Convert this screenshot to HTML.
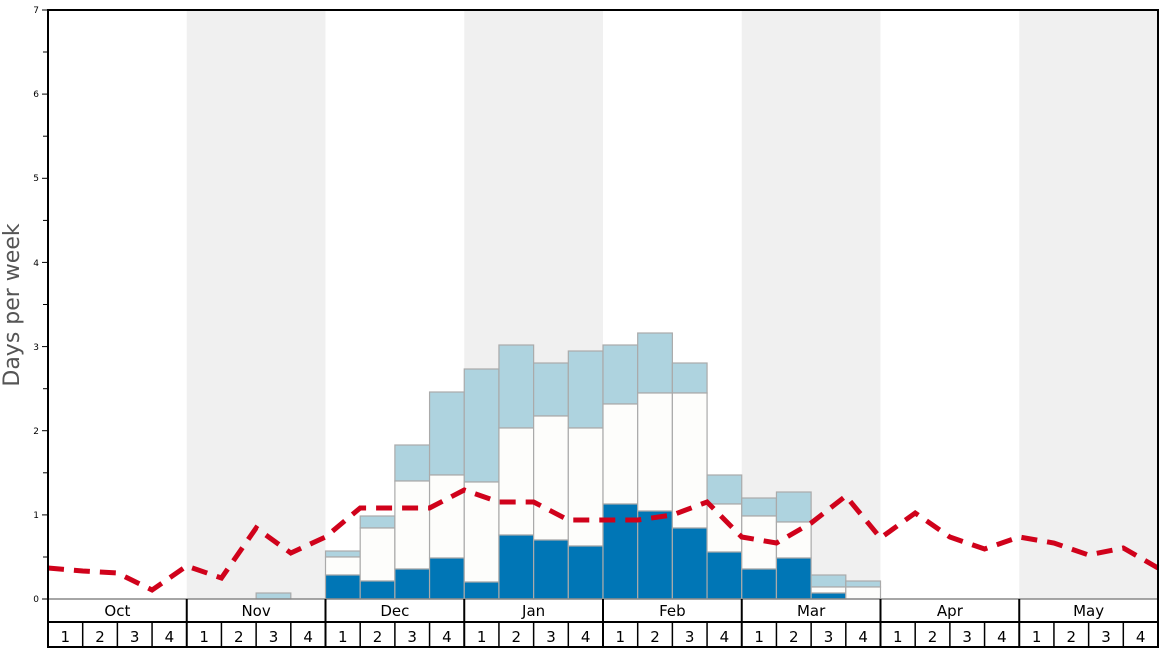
<!DOCTYPE html>
<html><head><meta charset="utf-8"><style>
html,body{margin:0;padding:0;background:#fff;}
svg{display:block;font-family:"DejaVu Sans","Liberation Sans",sans-serif;}
</style></head><body>
<svg width="1168" height="648" viewBox="0 0 1168 648" xmlns="http://www.w3.org/2000/svg">
<rect x="0" y="0" width="1168" height="648" fill="#fff"/>
<!-- shaded months -->
<g fill="#f0f0f0">
<rect x="186.75" y="10" width="138.75" height="589"/>
<rect x="464.25" y="10" width="138.75" height="589"/>
<rect x="741.75" y="10" width="138.75" height="589"/>
<rect x="1019.25" y="10" width="138.75" height="589"/>
</g>
<!-- bars -->
<g stroke="#aaaaaa" stroke-width="1.2">
<rect x="256.13" y="593" width="34.69" height="6" fill="#aed3df"/>
<!-- Dec1 -->
<rect x="325.5" y="551" width="34.69" height="6" fill="#aed3df"/><rect x="325.5" y="557" width="34.69" height="18" fill="#fdfdfb"/><rect x="325.5" y="575" width="34.69" height="24" fill="#0076b6"/>
<rect x="360.19" y="516" width="34.69" height="12" fill="#aed3df"/><rect x="360.19" y="528" width="34.69" height="53" fill="#fdfdfb"/><rect x="360.19" y="581" width="34.69" height="18" fill="#0076b6"/>
<rect x="394.88" y="445" width="34.69" height="36" fill="#aed3df"/><rect x="394.88" y="481" width="34.69" height="88" fill="#fdfdfb"/><rect x="394.88" y="569" width="34.69" height="30" fill="#0076b6"/>
<rect x="429.56" y="392" width="34.69" height="83" fill="#aed3df"/><rect x="429.56" y="475" width="34.69" height="83" fill="#fdfdfb"/><rect x="429.56" y="558" width="34.69" height="41" fill="#0076b6"/>
<!-- Jan -->
<rect x="464.25" y="369" width="34.69" height="113" fill="#aed3df"/><rect x="464.25" y="482" width="34.69" height="100" fill="#fdfdfb"/><rect x="464.25" y="582" width="34.69" height="17" fill="#0076b6"/>
<rect x="498.94" y="345" width="34.69" height="83" fill="#aed3df"/><rect x="498.94" y="428" width="34.69" height="107" fill="#fdfdfb"/><rect x="498.94" y="535" width="34.69" height="64" fill="#0076b6"/>
<rect x="533.63" y="363" width="34.69" height="53" fill="#aed3df"/><rect x="533.63" y="416" width="34.69" height="124" fill="#fdfdfb"/><rect x="533.63" y="540" width="34.69" height="59" fill="#0076b6"/>
<rect x="568.31" y="351" width="34.69" height="77" fill="#aed3df"/><rect x="568.31" y="428" width="34.69" height="118" fill="#fdfdfb"/><rect x="568.31" y="546" width="34.69" height="53" fill="#0076b6"/>
<!-- Feb -->
<rect x="603" y="345" width="34.69" height="59" fill="#aed3df"/><rect x="603" y="404" width="34.69" height="100" fill="#fdfdfb"/><rect x="603" y="504" width="34.69" height="95" fill="#0076b6"/>
<rect x="637.69" y="333" width="34.69" height="60" fill="#aed3df"/><rect x="637.69" y="393" width="34.69" height="118" fill="#fdfdfb"/><rect x="637.69" y="511" width="34.69" height="88" fill="#0076b6"/>
<rect x="672.38" y="363" width="34.69" height="30" fill="#aed3df"/><rect x="672.38" y="393" width="34.69" height="135" fill="#fdfdfb"/><rect x="672.38" y="528" width="34.69" height="71" fill="#0076b6"/>
<rect x="707.06" y="475" width="34.69" height="29" fill="#aed3df"/><rect x="707.06" y="504" width="34.69" height="48" fill="#fdfdfb"/><rect x="707.06" y="552" width="34.69" height="47" fill="#0076b6"/>
<!-- Mar -->
<rect x="741.75" y="498" width="34.69" height="18" fill="#aed3df"/><rect x="741.75" y="516" width="34.69" height="53" fill="#fdfdfb"/><rect x="741.75" y="569" width="34.69" height="30" fill="#0076b6"/>
<rect x="776.44" y="492" width="34.69" height="30" fill="#aed3df"/><rect x="776.44" y="522" width="34.69" height="36" fill="#fdfdfb"/><rect x="776.44" y="558" width="34.69" height="41" fill="#0076b6"/>
<rect x="811.13" y="575" width="34.69" height="12" fill="#aed3df"/><rect x="811.13" y="587" width="34.69" height="6" fill="#fdfdfb"/><rect x="811.13" y="593" width="34.69" height="6" fill="#0076b6"/>
<rect x="845.81" y="581" width="34.69" height="6" fill="#aed3df"/><rect x="845.81" y="587" width="34.69" height="12" fill="#fdfdfb"/>
</g>
<!-- red line -->
<polyline fill="none" stroke="#d0021b" stroke-width="5" stroke-dasharray="16,10"
points="48,568 82.69,571 117.38,573 152.06,590 186.75,566 221.44,578 256.13,528 290.81,553 325.5,537 360.19,508 394.88,508 429.56,508 464.25,490 498.94,502 533.63,502 568.31,520 603,520 637.69,520 672.38,515 707.06,502 741.75,537 776.44,543 811.13,523 845.81,496 880.5,538 915.19,513 949.88,537 984.56,549 1019.25,537 1053.94,543 1088.63,555 1123.31,548 1158,568"/>
<!-- axis frame -->
<line x1="48" y1="599" x2="1158" y2="599" stroke="#888" stroke-width="1.5"/>
<rect x="48" y="10" width="1110" height="637" fill="none" stroke="#000" stroke-width="2"/>
<!-- y ticks -->
<g stroke="#000" stroke-width="1">
<line x1="42" y1="599" x2="48" y2="599"/><line x1="42" y1="514.9" x2="48" y2="514.9"/><line x1="42" y1="430.7" x2="48" y2="430.7"/><line x1="42" y1="346.6" x2="48" y2="346.6"/><line x1="42" y1="262.4" x2="48" y2="262.4"/><line x1="42" y1="178.3" x2="48" y2="178.3"/><line x1="42" y1="94.1" x2="48" y2="94.1"/><line x1="42" y1="10" x2="48" y2="10"/>
<line x1="43" y1="557" x2="48" y2="557"/><line x1="43" y1="472.8" x2="48" y2="472.8"/><line x1="43" y1="388.7" x2="48" y2="388.7"/><line x1="43" y1="304.5" x2="48" y2="304.5"/><line x1="43" y1="220.4" x2="48" y2="220.4"/><line x1="43" y1="136.2" x2="48" y2="136.2"/><line x1="43" y1="52" x2="48" y2="52"/>
</g>
<g font-size="9" text-anchor="end" fill="#000">
<text x="39" y="602">0</text><text x="39" y="518">1</text><text x="39" y="434">2</text><text x="39" y="350">3</text><text x="39" y="266">4</text><text x="39" y="181">5</text><text x="39" y="97">6</text><text x="39" y="13">7</text>
</g>
<text transform="translate(19,305) rotate(-90)" font-size="22" fill="#555" text-anchor="middle">Days per week</text>
<!-- bottom rows -->
<line x1="48" y1="622" x2="1158" y2="622" stroke="#000" stroke-width="2"/>
<g stroke="#000" stroke-width="2">
<line x1="186.75" y1="599" x2="186.75" y2="647"/><line x1="325.5" y1="599" x2="325.5" y2="647"/><line x1="464.25" y1="599" x2="464.25" y2="647"/><line x1="603" y1="599" x2="603" y2="647"/><line x1="741.75" y1="599" x2="741.75" y2="647"/><line x1="880.5" y1="599" x2="880.5" y2="647"/><line x1="1019.25" y1="599" x2="1019.25" y2="647"/>
</g>
<g stroke="#000" stroke-width="1.5">
<line x1="82.69" y1="622" x2="82.69" y2="647"/><line x1="117.38" y1="622" x2="117.38" y2="647"/><line x1="152.06" y1="622" x2="152.06" y2="647"/>
<line x1="221.44" y1="622" x2="221.44" y2="647"/><line x1="256.13" y1="622" x2="256.13" y2="647"/><line x1="290.81" y1="622" x2="290.81" y2="647"/>
<line x1="360.19" y1="622" x2="360.19" y2="647"/><line x1="394.88" y1="622" x2="394.88" y2="647"/><line x1="429.56" y1="622" x2="429.56" y2="647"/>
<line x1="498.94" y1="622" x2="498.94" y2="647"/><line x1="533.63" y1="622" x2="533.63" y2="647"/><line x1="568.31" y1="622" x2="568.31" y2="647"/>
<line x1="637.69" y1="622" x2="637.69" y2="647"/><line x1="672.38" y1="622" x2="672.38" y2="647"/><line x1="707.06" y1="622" x2="707.06" y2="647"/>
<line x1="776.44" y1="622" x2="776.44" y2="647"/><line x1="811.13" y1="622" x2="811.13" y2="647"/><line x1="845.81" y1="622" x2="845.81" y2="647"/>
<line x1="915.19" y1="622" x2="915.19" y2="647"/><line x1="949.88" y1="622" x2="949.88" y2="647"/><line x1="984.56" y1="622" x2="984.56" y2="647"/>
<line x1="1053.94" y1="622" x2="1053.94" y2="647"/><line x1="1088.63" y1="622" x2="1088.63" y2="647"/><line x1="1123.31" y1="622" x2="1123.31" y2="647"/>
</g>
<g font-size="15" text-anchor="middle" fill="#000">
<text x="117.4" y="616">Oct</text><text x="256.1" y="616">Nov</text><text x="394.9" y="616">Dec</text><text x="533.6" y="616">Jan</text><text x="672.4" y="616">Feb</text><text x="811.1" y="616">Mar</text><text x="949.9" y="616">Apr</text><text x="1088.6" y="616">May</text>
</g>
<g font-size="15" text-anchor="middle" fill="#000">
<text x="65.3" y="642">1</text><text x="100" y="642">2</text><text x="134.7" y="642">3</text><text x="169.4" y="642">4</text>
<text x="204.1" y="642">1</text><text x="238.8" y="642">2</text><text x="273.5" y="642">3</text><text x="308.2" y="642">4</text>
<text x="342.8" y="642">1</text><text x="377.5" y="642">2</text><text x="412.2" y="642">3</text><text x="446.9" y="642">4</text>
<text x="481.6" y="642">1</text><text x="516.3" y="642">2</text><text x="551" y="642">3</text><text x="585.7" y="642">4</text>
<text x="620.3" y="642">1</text><text x="655" y="642">2</text><text x="689.7" y="642">3</text><text x="724.4" y="642">4</text>
<text x="759.1" y="642">1</text><text x="793.8" y="642">2</text><text x="828.5" y="642">3</text><text x="863.2" y="642">4</text>
<text x="897.8" y="642">1</text><text x="932.5" y="642">2</text><text x="967.2" y="642">3</text><text x="1001.9" y="642">4</text>
<text x="1036.6" y="642">1</text><text x="1071.3" y="642">2</text><text x="1106" y="642">3</text><text x="1140.7" y="642">4</text>
</g>
</svg>
</body></html>
